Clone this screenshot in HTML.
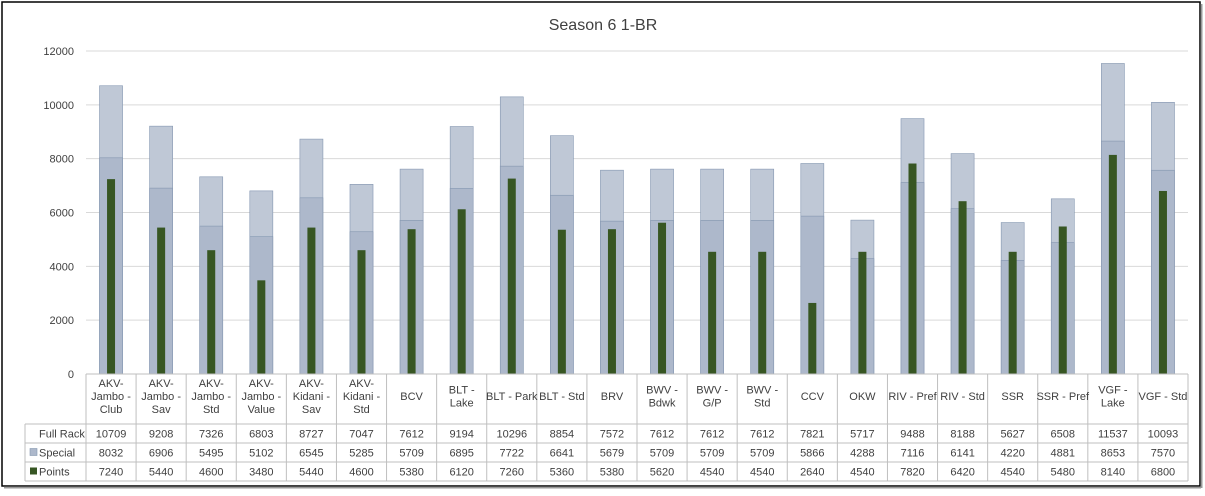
<!DOCTYPE html>
<html><head><meta charset="utf-8"><style>
body{margin:0;background:#fff;font-family:"Liberation Sans",sans-serif;}
#wrap{position:relative;width:1205px;height:491px;}
</style></head><body>
<div id="wrap">
<svg id="svg" width="1205" height="491" xmlns="http://www.w3.org/2000/svg">
<rect x="2" y="2" width="1198" height="484" fill="#fff" stroke="#000" stroke-width="1.5"/>
<line x1="4" y1="487.5" x2="1201" y2="487.5" stroke="#999" stroke-width="2"/>
<line x1="1201.5" y1="4" x2="1201.5" y2="488" stroke="#999" stroke-width="2"/>
<text x="603" y="30" text-anchor="middle" font-size="16" fill="#404040">Season 6 1-BR</text>
<g id="grid"></g><g id="bars"></g><g id="table"></g>
</svg>
</div>
<script>
const categories=["AKV-\nJambo -\nClub","AKV-\nJambo -\nSav","AKV-\nJambo -\nStd","AKV-\nJambo -\nValue","AKV-\nKidani -\nSav","AKV-\nKidani -\nStd","BCV","BLT -\nLake","BLT - Park","BLT - Std","BRV","BWV -\nBdwk","BWV -\nG/P","BWV -\nStd","CCV","OKW","RIV - Pref","RIV - Std","SSR","SSR - Pref","VGF -\nLake","VGF - Std"];
const fullRack=[10709,9208,7326,6803,8727,7047,7612,9194,10296,8854,7572,7612,7612,7612,7821,5717,9488,8188,5627,6508,11537,10093];
const special=[8032,6906,5495,5102,6545,5285,5709,6895,7722,6641,5679,5709,5709,5709,5866,4288,7116,6141,4220,4881,8653,7570];
const points=[7240,5440,4600,3480,5440,4600,5380,6120,7260,5360,5380,5620,4540,4540,2640,4540,7820,6420,4540,5480,8140,6800];
const yTicks=[0,2000,4000,6000,8000,10000,12000];
const NS="http://www.w3.org/2000/svg";
const X0=86,X1=1188,Y0=374,Y1=51,YMAX=12000;
const n=categories.length,cw=(X1-X0)/n;
const y=v=>Y0-(v/YMAX)*(Y0-Y1);
const xc=i=>X0+cw*(i+0.5);
function mk(tag,attrs,parent){const e=document.createElementNS(NS,tag);for(const k in attrs)e.setAttribute(k,attrs[k]);parent.appendChild(e);return e;}
const G=document.getElementById('grid'),B=document.getElementById('bars'),T=document.getElementById('table');
yTicks.forEach(t=>{
 const l=mk('line',{x1:X0,x2:X1,y1:y(t),y2:y(t),stroke:'#d9d9d9'},G);
 
 
 const tx=mk('text',{x:74,y:y(t)+4,'text-anchor':'end','font-size':11,fill:'#404040'},G);
 tx.textContent=t;
 
 
});
const bw=cw*0.46,pw=8;
categories.forEach((c,i)=>{
 const r1=mk('rect',{x:xc(i)-bw/2,y:y(fullRack[i]),width:bw,height:Y0-y(fullRack[i]),fill:'#bfc8d6',stroke:'#8496b0','stroke-width':0.6},B);
 
 
 const r2=mk('rect',{x:xc(i)-bw/2,y:y(special[i]),width:bw,height:Y0-y(special[i]),fill:'#adb8cb',stroke:'#8496b0','stroke-width':0.6},B);
 
 
 const r3=mk('rect',{x:xc(i)-pw/2,y:y(points[i]),width:pw,height:Y0-y(points[i]),fill:'#375623'},B);
 
 
});
// table
const rowsY=[374,424,443,462,481];
const stroke='#bfbfbf';
mk('line',{x1:X0,x2:X1,y1:374,y2:374,stroke:'#bfbfbf'},T);
for(let r=1;r<rowsY.length;r++){mk('line',{x1:25,x2:X1,y1:rowsY[r],y2:rowsY[r],stroke:stroke},T);}
mk('line',{x1:25,x2:25,y1:424,y2:481,stroke:stroke},T);
for(let i=0;i<=n;i++){mk('line',{x1:X0+cw*i,x2:X0+cw*i,y1:374,y2:481,stroke:stroke},T);}
categories.forEach((c,i)=>{
 const lines=c.split('\n');const top=400-(lines.length-1)*6.5;
 lines.forEach((ln,k)=>{
  const t=mk('text',{x:xc(i),y:top+k*13,'text-anchor':'middle','font-size':11,fill:'#404040'},T);
  t.textContent=ln;
  
  
 });
});
const series=[["Full Rack",fullRack,null],["Special",special,'#adb8cb'],["Points",points,'#375623']];
series.forEach((s,r)=>{
 const cy=rowsY[r+1]+13.5;
 if(s[2]){const sw=mk('rect',{x:30,y:cy-8,width:7,height:7,fill:s[2],stroke:s[2]==='#adb8cb'?'#8496b0':'none','stroke-width':0.6},T);
  
  }
 const lb=mk('text',{x:39,y:cy,'font-size':11,fill:'#404040'},T);
 lb.textContent=s[0];
 
 
 s[1].forEach((v,i)=>{
  const t=mk('text',{x:xc(i),y:cy,'text-anchor':'middle','font-size':11,fill:'#404040'},T);
  t.textContent=v;
  
  
 });
});
</script>
</body></html>
